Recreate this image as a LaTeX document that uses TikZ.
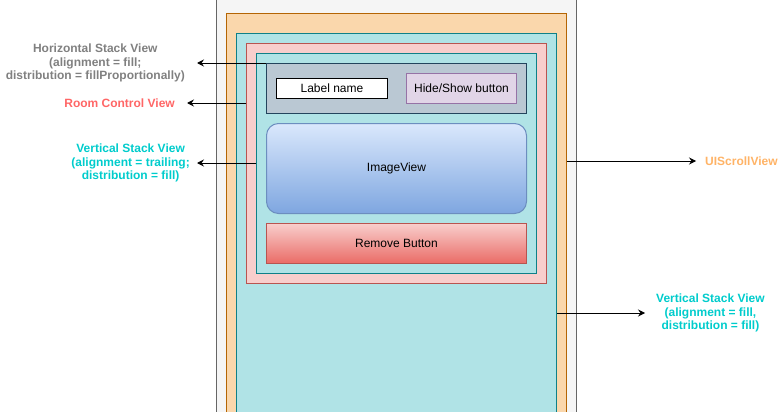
\documentclass[tikz,border=0pt]{standalone}
\usepackage{fontspec}
\setsansfont{Liberation Sans}
\usetikzlibrary{positioning,arrows.meta}
\tikzset{every picture/.style={/utils/exec={\sffamily}}}

\definecolor{phonefill}{HTML}{F5F5F5}
\definecolor{phoneline}{HTML}{666666}
\definecolor{scrollfill}{HTML}{FAD7AC}
\definecolor{scrollline}{HTML}{B46504}
\definecolor{stackfill}{HTML}{B0E3E6}
\definecolor{stackline}{HTML}{0E8088}
\definecolor{roomfill}{HTML}{F8CECC}
\definecolor{roomline}{HTML}{B85450}
\definecolor{hstackfill}{HTML}{BAC8D3}
\definecolor{hstackline}{HTML}{23445D}
\definecolor{togglefill}{HTML}{E1D5E7}
\definecolor{toggleline}{HTML}{9673A6}
\definecolor{imgtop}{HTML}{DAE8FC}
\definecolor{imgbottom}{HTML}{7EA6E0}
\definecolor{imgline}{HTML}{6C8EBF}
\definecolor{removebottom}{HTML}{EA6B66}
\definecolor{greytext}{HTML}{808080}
\definecolor{redtext}{HTML}{FF6666}
\definecolor{cyantext}{HTML}{00CCCC}
\definecolor{orangetext}{HTML}{FFB366}

\begin{document}
\begin{tikzpicture}[x=1pt,y=-1pt,
  box/.style={draw,anchor=north west,inner sep=0pt,line width=1pt,
    font=\fontsize{12}{14}\selectfont},
  note/.style={align=center,inner sep=0pt,
    font=\fontsize{12}{13.5}\selectfont\bfseries},
  link/.style={line width=0.9pt,-{Stealth[length=7pt,width=7pt,inset=2.5pt]}}]
  \useasboundingbox (0,0) rectangle (782,412);
  \clip (0,0) rectangle (782,412);

  \node [box, fill=phonefill, draw=phoneline, minimum width=360pt, minimum height=430pt] (phone) at (216,-5) {};
  \node [box, fill=scrollfill, draw=scrollline, minimum width=340pt, minimum height=420pt] (scroll) at (226,13) {};
  \node [box, fill=stackfill, draw=stackline, minimum width=320pt, minimum height=400pt] (vstack) at (236,33) {};
  \node [box, fill=roomfill, draw=roomline, minimum width=300pt, minimum height=240pt] (room) at (246,43) {};
  \node [box, fill=stackfill, draw=stackline, minimum width=280pt, minimum height=220pt] (vstackin) at (256,53) {};
  \node [box, fill=hstackfill, draw=hstackline, minimum width=260pt, minimum height=50pt] (hstack) at (266,63) {};

  \node [box, fill=white, draw=black, minimum width=111pt, minimum height=20pt] (lblname) at (276,78) {Label name};
  \node [box, fill=togglefill, draw=toggleline, minimum width=110pt, minimum height=30pt] (toggle) at (406,73) {Hide/Show button};
  \node [box, top color=imgtop, bottom color=imgbottom, draw=imgline, rounded corners=12pt,
    minimum width=260pt, minimum height=90pt] (imgview) at (266,123) {ImageView};
  \node [box, top color=roomfill, bottom color=removebottom, draw=roomline,
    minimum width=260pt, minimum height=40pt] (remove) at (266,223) {Remove Button};

  \coordinate (hstackend) at (197,63);
  \coordinate (roomend) at (187,103);
  \coordinate (vstackinend) at (197,163);
  \coordinate (scrollend) at (696,161);
  \coordinate (vstackend) at (645,313);

  \draw [link] (hstack.north west) -- (hstackend);
  \draw [link] (room.west |- roomend) -- (roomend);
  \draw [link] (vstackin.west |- vstackinend) -- (vstackinend);
  \draw [link] (scroll.east |- scrollend) -- (scrollend);
  \draw [link] (vstack.east |- vstackend) -- (vstackend);

  \node [note, text=greytext, left=12pt of hstackend] (hstacklbl) {Horizontal Stack View\\(alignment = fill;\\distribution = fillProportionally)};
  \node [note, text=redtext, left=12pt of roomend] (roomlbl) {Room Control View};
  \node [note, text=cyantext, left=7pt of vstackinend] (vstackinlbl) {Vertical Stack View\\(alignment = trailing;\\distribution = fill)};
  \node [note, text=orangetext, right=9pt of scrollend] (scrolllbl) {UIScrollView};
  \node [note, text=cyantext, right=11pt of vstackend] (vstacklbl) {Vertical Stack View\\(alignment = fill,\\distribution = fill)};
\end{tikzpicture}
\end{document}
